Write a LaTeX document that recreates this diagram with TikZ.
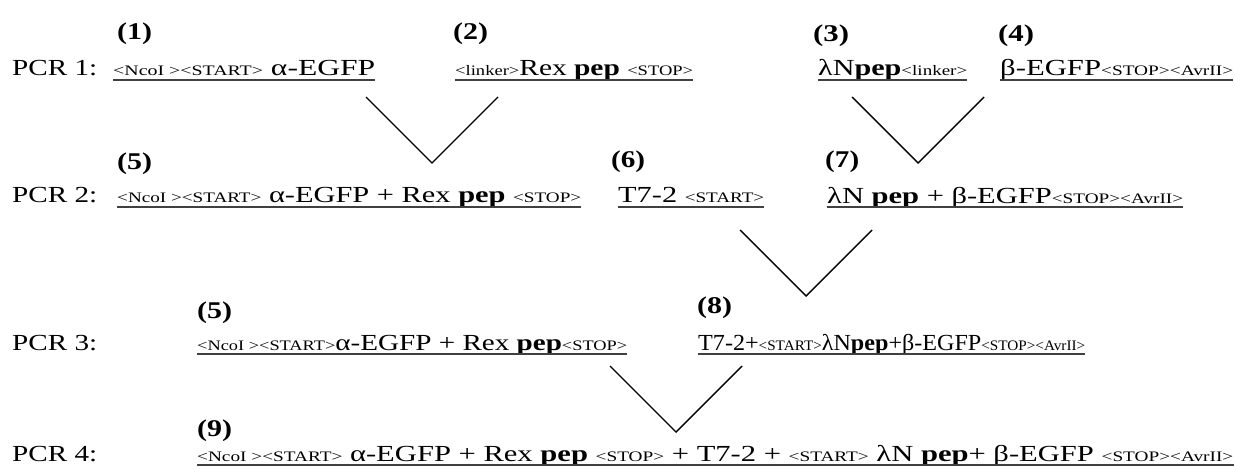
\documentclass[tikz,border=0pt]{standalone}
\usepackage{fontspec}
\setmainfont{Liberation Serif}
\usepackage{graphicx}
\newcommand\tg[1]{{\fontsize{14.5}{16}\selectfont #1}}
\newcommand\pp{\textbf{pep}}
\newcommand\fitw[2]{\resizebox{#1pt}{\height}{#2}}
\begin{document}
\begin{tikzpicture}[x=1pt,y=-1pt,
  txt/.style={inner sep=0pt, anchor=base west, font=\fontsize{23}{26}\selectfont},
  lab/.style={inner sep=0pt, anchor=base west, font=\fontsize{24}{26}\selectfont\bfseries},
  ul/.style={line width=1.2pt, black!75},
  vline/.style={line width=1.4pt}]
\useasboundingbox (0,0) rectangle (1236,473);
\newcommand\uline[1]{\draw[ul] ([yshift=-4pt]#1.base west) -- ([yshift=-4pt]#1.base east);}
% row labels
\node[txt] (p1) at (12,76)  {\fitw{85}{PCR 1:}};
\node[txt] (p2) at (12,203) {\fitw{85}{PCR 2:}};
\node[txt] (p3) at (12,350) {\fitw{85}{PCR 3:}};
\node[txt] (p4) at (12,461) {\fitw{85}{PCR 4:}};
% row 1
\node[lab] (l1) at (117,40) {\fitw{35}{(1)}};
\node[lab] (l2) at (453,40) {\fitw{35}{(2)}};
\node[lab] (l3) at (813,42) {\fitw{36}{(3)}};
\node[lab] (l4) at (998,42) {\fitw{36}{(4)}};
\node[txt] (t1) at (113,76) {\fitw{262}{\tg{<NcoI >{}<START>} α-EGFP}};
\node[txt] (t2) at (455,76) {\fitw{238}{\tg{<linker>}Rex \pp\ \tg{<STOP>}}};
\node[txt] (t3) at (818,76) {\fitw{149}{λN\pp\tg{<linker>}}};
\node[txt] (t4) at (1000,76) {\fitw{233}{β-EGFP\tg{<STOP>{}<AvrII>}}};
% row 2
\node[lab] (l5) at (117,170) {\fitw{35}{(5)}};
\node[lab] (l6) at (611,168) {\fitw{34}{(6)}};
\node[lab] (l7) at (825,168) {\fitw{34}{(7)}};
\node[txt] (t5) at (117,203) {\fitw{464}{\tg{<NcoI >{}<START>} α-EGFP + Rex \pp\ \tg{<STOP>}}};
\node[txt] (t6) at (618,203) {\fitw{146}{T7-2 \tg{<START>}}};
\node[txt] (t7) at (827,203) {\fitw{356}{λN \pp\ + β-EGFP\tg{<STOP>{}<AvrII>}}};
% row 3
\node[lab] (l5b) at (197,318) {\fitw{35}{(5)}};
\node[lab] (l8) at (697,313) {\fitw{35}{(8)}};
\node[txt] (t8) at (197,350) {\fitw{430}{\tg{<NcoI >{}<START>}α-EGFP + Rex \pp\tg{<STOP>}}};
\node[txt] (t9) at (698,350) {\fitw{387}{T7-2+\tg{<START>}λN\pp+β-EGFP\tg{<STOP>{}<AvrII>}}};
% row 4
\node[lab] (l9) at (197,436) {\fitw{35}{(9)}};
\node[txt] (t10) at (197,461) {\fitw{1036}{\tg{<NcoI >{}<START>} α-EGFP + Rex \pp\ \tg{<STOP>} + T7-2 + \tg{<START>} λN \pp+ β-EGFP \tg{<STOP>{}<AvrII>}}};
% underlines
\uline{t1}\uline{t2}\uline{t3}\uline{t4}
\uline{t5}\uline{t6}\uline{t7}
\uline{t8}\uline{t9}\uline{t10}
% joins
\coordinate (v1a) at (366,97);  \coordinate (v1b) at (432,163); \coordinate (v1c) at (498,97);
\coordinate (v2a) at (852,97);  \coordinate (v2b) at (918,163); \coordinate (v2c) at (984,97);
\coordinate (v3a) at (740,230); \coordinate (v3b) at (806,296); \coordinate (v3c) at (872,230);
\coordinate (v4a) at (610,366); \coordinate (v4b) at (676,432); \coordinate (v4c) at (742,366);
\draw[vline] (v1a) -- (v1b) -- (v1c);
\draw[vline] (v2a) -- (v2b) -- (v2c);
\draw[vline] (v3a) -- (v3b) -- (v3c);
\draw[vline] (v4a) -- (v4b) -- (v4c);
\end{tikzpicture}
\end{document}
